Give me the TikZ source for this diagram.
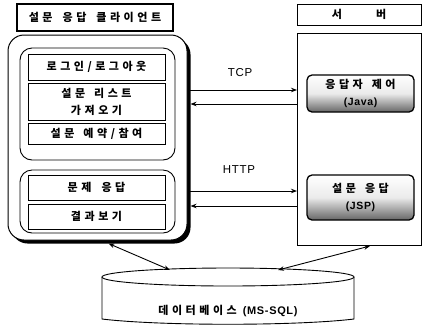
\documentclass[tikz,border=0pt]{standalone}
\usepackage{fontspec}
\setmainfont{Liberation Sans}
\newfontfamily\kr[LetterSpace=32]{Noto Sans CJK KR}
\newfontfamily\latn[LetterSpace=6]{Liberation Sans}
\usetikzlibrary{arrows.meta,shadows}
\begin{document}
\begin{tikzpicture}[x=1pt,y=-1pt,
  every node/.style={inner sep=0pt, outer sep=0pt},
  kbox/.style={draw, line width=1pt, fill=white, font=\kr\bfseries\fontsize{11}{17}\selectfont, align=center},
  titlebox/.style={kbox, line width=1.1pt, drop shadow={shadow xshift=1.2pt, shadow yshift=-1.2pt, fill=black, opacity=1}},
  outerbox/.style={draw, line width=1pt, fill=white, rounded corners=16pt, drop shadow={shadow xshift=3.5pt, shadow yshift=-3.5pt, fill=black, opacity=1}},
  groupbox/.style={draw, line width=0.9pt, rounded corners=12pt},
  srvbox/.style={draw, line width=0.9pt},
  shadebox/.style={kbox, line width=1.3pt, rounded corners=5pt, top color=white, bottom color=black!60, middle color=black!8},
  lbl/.style={font=\latn\fontsize{11.5}{13}\selectfont},
  arr/.style={line width=0.9pt, -{Stealth[length=6pt,width=4.5pt]}},
  darr/.style={line width=0.9pt, {Stealth[length=6pt,width=4.5pt]}-{Stealth[length=6pt,width=4.5pt]}}
]
\useasboundingbox (0,0) rectangle (427,325);

% client side
\node[titlebox, minimum width=156pt, minimum height=27pt] (ctitle) at (95,17.5) {설문\hspace{4pt} 응답\hspace{4pt} 클라이언트};
\node[outerbox, minimum width=179pt, minimum height=205pt] (client) at (97.5,137.5) {};
\node[groupbox, minimum width=155pt, minimum height=112pt] (g1) at (97.5,104) {};
\node[groupbox, minimum width=155pt, minimum height=63pt] (g2) at (97.5,201.5) {};
\node[kbox, minimum width=137pt, minimum height=26pt] (b1) at (96.5,67) {로그인/로그아웃};
\node[kbox, minimum width=137pt, minimum height=37pt] (b2) at (96.5,101.5) {설문\hspace{3pt} 리스트\\가져오기};
\node[kbox, minimum width=137pt, minimum height=21pt] (b3) at (96.5,134) {설문\hspace{3pt} 예약/참여};
\node[kbox, minimum width=137pt, minimum height=25pt] (b4) at (96.5,187.5) {문제\hspace{4pt} 응답};
\node[kbox, minimum width=137pt, minimum height=25pt] (b5) at (96.5,216.5) {결과보기};

% server side
\node[kbox, line width=0.9pt, minimum width=124pt, minimum height=21pt] (stitle) at (359,14.5) {서\hspace{34pt}버};
\node[srvbox, minimum width=124pt, minimum height=212pt] (server) at (359,139) {};
\node[shadebox, minimum width=107pt, minimum height=37pt] (s1) at (360.5,93.5) {응답자\hspace{3pt} 제어\\{\latn\bfseries\fontsize{10.5}{12}\selectfont (Java)}};
\node[shadebox, minimum width=107pt, minimum height=45pt] (s2) at (360.5,197.5) {설문\hspace{3pt} 응답\\{\latn\bfseries\fontsize{10.5}{12}\selectfont (JSP)}};

% protocol connectors
\coordinate (t1) at (0,90);
\coordinate (t2) at (0,104);
\coordinate (h1) at (0,191);
\coordinate (h2) at (0,206);
\draw[arr] ([xshift=3pt]client.east |- t1) -- (server.west |- t1);
\draw[arr] (server.west |- t2) -- ([xshift=3.5pt]client.east |- t2);
\draw[arr] ([xshift=3pt]client.east |- h1) -- (server.west |- h1);
\draw[arr] (server.west |- h2) -- ([xshift=3.5pt]client.east |- h2);
\node[lbl] (tcp) at (240,73) {TCP};
\node[lbl] (http) at (239,170) {HTTP};

% database
\draw[line width=0.9pt, fill=white] (102,277) -- (102,319) .. controls (160,326) and (296,326) .. (354,319) -- (354,277);
\draw[line width=0.9pt, fill=white] (228,277) ellipse [x radius=126, y radius=9];
\node[font=\kr\bfseries\fontsize{11}{12}\selectfont] (db) at (228,311) {데이터베이스 {\latn\bfseries\fontsize{11}{12}\selectfont (MS-SQL)}};
\coordinate (dbl) at (170,270);
\coordinate (dbr) at (278,270);
\draw[darr] ([xshift=11pt,yshift=-3.5pt]client.south) -- (dbl);
\draw[darr] ([xshift=11pt,yshift=-1pt]server.south) -- (dbr);
\end{tikzpicture}
\end{document}
